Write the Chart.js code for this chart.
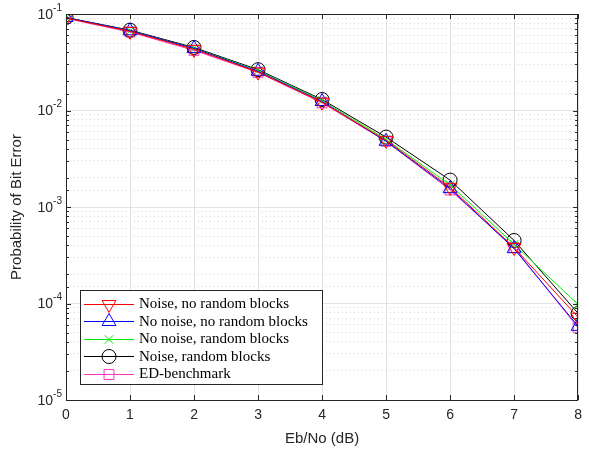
<!DOCTYPE html>
<html>
<head>
<meta charset="utf-8">
<script src="https://cdn.jsdelivr.net/npm/chart.js@4.4.1/dist/chart.umd.min.js"></script>
<style>
  html, body { margin: 0; padding: 0; background: #fff; }
  #wrap { position: relative; width: 589px; height: 452px; }
  #legend {
    position: absolute; left: 80px; top: 290px; width: 243px; height: 95px;
    border: 1px solid #262626; background: #fff; box-sizing: border-box;
    font-family: "Liberation Serif", serif; font-size: 15px; color: #000;
    padding-top: 4px; white-space: nowrap;
  }
  .row { height: 17.5px; display: flex; align-items: center; }
  .row canvas { margin-left: 3px; margin-right: 5px; }
</style>
</head>
<body>
<div id="wrap">
  <canvas id="berChart" width="589" height="452"></canvas>
  <div id="legend"></div>
</div>
<script>
// Eb/No values (dB)
const ebno = [0, 1, 2, 3, 4, 5, 6, 7, 8];

// BER curves
const noiseNoRandom   = [0.091, 0.066, 0.043, 0.0250, 0.0122, 0.0049, 0.00160, 0.00038, 0.000072];
const noNoiseNoRandom = [0.092, 0.067, 0.044, 0.0255, 0.0124, 0.0048, 0.00155, 0.00037, 0.000058];
const noNoiseRandom   = [0.091, 0.067, 0.044, 0.0260, 0.0127, 0.0050, 0.00170, 0.00041, 0.000098];
const noiseRandom     = [0.092, 0.068, 0.045, 0.0265, 0.0130, 0.0053, 0.00190, 0.00045, 0.000079];
const edBenchmark     = [0.090, 0.065, 0.042, 0.0248, 0.0120, 0.0048, 0.00150, 0.00038, 0.000056];

const seriesLabels = ["Noise, no random blocks", "No noise, no random blocks", "No noise, random blocks", "Noise, random blocks", "ED-benchmark"];

// y tick labels drawn as 10 with a raised exponent
const yTickExponents = [-1, -2, -3, -4, -5];

const series = [
    { data: noiseNoRandom,   color: "#ff0000", style: "triangle", rotation: 180, radius: 8 },
    { data: noNoiseNoRandom, color: "#0000ff", style: "triangle", rotation: 0,   radius: 8 },
    { data: noNoiseRandom,   color: "#00ee00", style: "crossRot", rotation: 0,   radius: 6 },
    { data: noiseRandom,     color: "#000000", style: "circle",   rotation: 0,   radius: 7 },
    { data: edBenchmark,     color: "#ff33bb", style: "rect",     rotation: 0,   radius: 7 }
];

const isDecade = v => Math.abs(Math.log10(v) - Math.round(Math.log10(v))) < 1e-6;

// frame + inward ticks like MATLAB, plus the 10^n labels
const framePlugin = {
    id: 'frame',
    afterDatasetsDraw(chart) {
        const { ctx, chartArea: a, scales } = chart;
        ctx.save();
        ctx.strokeStyle = '#262626';
        ctx.lineWidth = 1;
        ctx.beginPath();
        scales.x.ticks.forEach(t => {
            const px = Math.round(scales.x.getPixelForValue(t.value)) + 0.5;
            ctx.moveTo(px, a.bottom); ctx.lineTo(px, a.bottom - 5);
            ctx.moveTo(px, a.top); ctx.lineTo(px, a.top + 5);
        });
        scales.y.ticks.forEach(t => {
            const py = Math.round(scales.y.getPixelForValue(t.value)) + 0.5;
            const len = isDecade(t.value) ? 5 : 3;
            ctx.moveTo(a.left, py); ctx.lineTo(a.left + len, py);
            ctx.moveTo(a.right, py); ctx.lineTo(a.right - len, py);
        });
        ctx.stroke();
        ctx.strokeRect(Math.round(a.left) + 0.5, Math.round(a.top) + 0.5,
                       Math.round(a.right - a.left) - 1, Math.round(a.bottom - a.top));

        ctx.fillStyle = '#262626';
        ctx.textBaseline = 'middle';
        yTickExponents.forEach(e => {
            const py = scales.y.getPixelForValue(Math.pow(10, e));
            const exp = '-' + Math.abs(e);
            ctx.font = '10px "Liberation Sans"';
            const ew = ctx.measureText(exp).width;
            ctx.textAlign = 'right';
            ctx.fillText(exp, a.left - 4, py - 6);
            ctx.font = '14px "Liberation Sans"';
            ctx.fillText('10', a.left - 4 - ew, py + 1);
        });
        ctx.restore();
    }
};

const ctx = document.getElementById("berChart").getContext("2d");
const berChart = new Chart(ctx, {
    type: 'line',
    data: {
        labels: ebno,
        datasets: series.map((s, i) => ({
            label: seriesLabels[i],
            data: ebno.map((x, j) => ({ x: x, y: s.data[j] })),
            borderColor: s.color,
            backgroundColor: 'rgba(0,0,0,0)',
            borderWidth: 1,
            pointStyle: s.style,
            pointRotation: s.rotation,
            pointRadius: s.radius,
            pointBorderColor: s.color,
            pointBorderWidth: 1,
            pointBackgroundColor: 'rgba(0,0,0,0)',
            tension: 0,
            fill: false
        }))
    },
    options: {
        responsive: false,
        animation: false,
        layout: { padding: { top: 14, right: 2, left: 0, bottom: 0 } },
        plugins: {
            legend: { display: false },
            tooltip: { enabled: false }
        },
        scales: {
            x: {
                type: 'linear',
                min: 0, max: 8,
                afterFit: s => { s.height = 52; },
                ticks: {
                    stepSize: 1,
                    color: '#262626',
                    padding: 7,
                    font: { family: 'Liberation Sans', size: 14 }
                },
                grid: { color: '#e3e3e3', drawTicks: false },
                border: { display: false },
                title: {
                    display: true,
                    text: 'Eb/No (dB)',
                    color: '#262626',
                    padding: { top: 4 },
                    font: { family: 'Liberation Sans', size: 15 }
                }
            },
            y: {
                type: 'logarithmic',
                min: 1e-5, max: 1e-1,
                afterFit: s => { s.width = 66; },
                ticks: {
                    color: '#262626',
                    padding: 5,
                    autoSkip: false,
                    font: { family: 'Liberation Sans', size: 13 },
                    callback: () => ''
                },
                grid: {
                    drawTicks: false,
                    color: c => isDecade(c.tick.value) ? '#e3e3e3' : '#d6d6d6'
                },
                border: {
                    display: false,
                    dash: c => (c.tick && !isDecade(c.tick.value)) ? [1, 3] : []
                },
                title: {
                    display: true,
                    text: 'Probability of Bit Error',
                    color: '#262626',
                    padding: { top: 8, bottom: 0 },
                    font: { family: 'Liberation Sans', size: 15 }
                }
            }
        }
    },
    plugins: [framePlugin]
});

// legend with line + marker samples, as in the original figure
const legend = document.getElementById("legend");
series.forEach((s, i) => {
    const row = document.createElement("div");
    row.className = "row";
    const c = document.createElement("canvas");
    c.width = 50; c.height = 18;
    const g = c.getContext("2d");
    g.lineWidth = 1;
    g.fillStyle = 'rgba(0,0,0,0)';
    g.strokeStyle = s.color;
    Chart.helpers.drawPoint(g, { pointStyle: s.style, rotation: s.rotation, radius: s.radius, borderWidth: 1 }, 25, 9.5);
    g.beginPath();
    g.strokeStyle = s.color;
    g.moveTo(0, 9.5); g.lineTo(50, 9.5);
    g.stroke();
    row.appendChild(c);
    const span = document.createElement("span");
    span.textContent = seriesLabels[i];
    row.appendChild(span);
    legend.appendChild(row);
});
</script>
</body>
</html>
